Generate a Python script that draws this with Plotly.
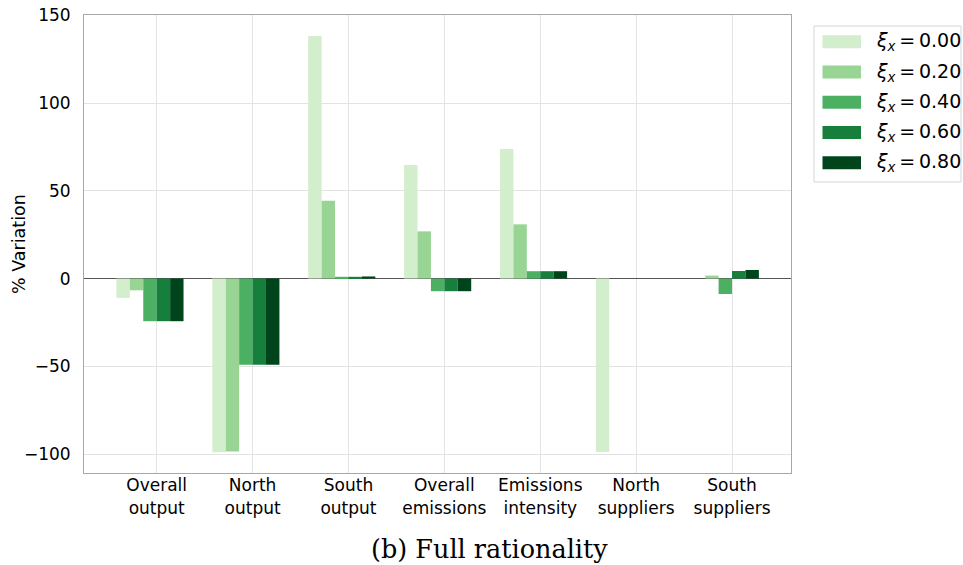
import plotly.graph_objects as go
import numpy as np

# Categories on the x axis (two-line tick labels)
categories = [
    "Overall<br>output",
    "North<br>output",
    "South<br>output",
    "Overall<br>emissions",
    "Emissions<br>intensity",
    "North<br>suppliers",
    "South<br>suppliers",
]

# Salience levels and the % variation for each category
xi_levels = ["0.00", "0.20", "0.40", "0.60", "0.80"]
var_xi_000 = [-11.0, -99.0, 138.3, 64.7, 73.8, -98.9, 0.0]
var_xi_020 = [-6.7, -98.6, 44.4, 26.9, 30.9, 0.0, 1.7]
var_xi_040 = [-24.3, -49.1, 1.0, -7.2, 4.2, 0.0, -8.8]
var_xi_060 = [-24.3, -49.1, 1.0, -7.2, 4.2, 0.0, 4.3]
var_xi_080 = [-24.3, -49.1, 1.2, -7.2, 4.2, 0.0, 4.9]
series = [var_xi_000, var_xi_020, var_xi_040, var_xi_060, var_xi_080]

colors = ["#d3eecd", "#98d594", "#4bb062", "#167f3c", "#00441b"]

W, H = 963, 565
L, R, T, B = 84, 172, 15, 92
plot_w = W - L - R
plot_h = H - T - B

bar_w = 0.14
idx = np.arange(len(categories))

fig = go.Figure()
for i, (vals, col, lev) in enumerate(zip(series, colors, xi_levels)):
    fig.add_trace(go.Bar(
        x=idx + (i - 2.5) * bar_w,
        y=vals,
        width=bar_w,
        marker=dict(color=col, line=dict(width=0)),
        name=lev,
        showlegend=False,
    ))

fig.update_layout(
    width=W, height=H,
    margin=dict(l=L, r=R, t=T, b=B, autoexpand=False),
    plot_bgcolor="white",
    paper_bgcolor="white",
    barmode="overlay",
    font=dict(family="DejaVu Sans", size=17, color="black"),
)

fig.update_xaxes(
    range=[-0.758, 6.615],
    automargin=False,
    tickmode="array",
    tickvals=idx,
    ticktext=categories,
    tickfont=dict(size=17),
    showgrid=True, gridcolor="#e3e3e3", gridwidth=1,
    showline=True, linecolor="#a8a8a8", linewidth=1, mirror=True,
    ticks="", ticklabelstandoff=-3,
    zeroline=False,
)
fig.update_yaxes(
    range=[-110.8, 150.2],
    automargin=False,
    tickmode="array",
    tickvals=[-100, -50, 0, 50, 100, 150],
    showgrid=True, gridcolor="#e3e3e3", gridwidth=1,
    showline=True, linecolor="#a8a8a8", linewidth=1, mirror=True,
    ticks="", ticklabelstandoff=9,
    zeroline=True, zerolinecolor="#555555", zerolinewidth=1.2,
)

def px_x(p):
    return (p - L) / plot_w

def px_y(p):
    return (H - B - p) / plot_h

annotations = [dict(
    xref="paper", yref="paper", x=px_x(19), y=0.5,
    xanchor="center", yanchor="middle", showarrow=False, textangle=-90,
    text="% Variation",
    font=dict(family="DejaVu Sans", size=17.5, color="black"),
)]

# Legend drawn as a framed box of colour patches and labels
shapes = [dict(
    type="rect", xref="paper", yref="paper",
    x0=px_x(814), x1=px_x(961), y0=px_y(182), y1=px_y(26),
    line=dict(color="#d6d6d6", width=1), fillcolor="white", layer="above",
)]
row0, row_step = 41.8, 30.25
for i, (col, lev) in enumerate(zip(colors, xi_levels)):
    cy = row0 + i * row_step
    shapes.append(dict(
        type="rect", xref="paper", yref="paper",
        x0=px_x(822.5), x1=px_x(861), y0=px_y(cy + 6.5), y1=px_y(cy - 6.5),
        line=dict(width=0), fillcolor=col, layer="above",
    ))
    annotations.append(dict(
        xref="paper", yref="paper", x=px_x(874), y=px_y(cy),
        xanchor="left", yanchor="middle", showarrow=False,
        text=f"<i>ξ</i><sub><i>x</i></sub>\u2009=\u2009{lev}",
        font=dict(family="DejaVu Sans", size=19, color="black"),
    ))

annotations.append(dict(
    xref="paper", yref="paper", x=px_x(490), y=px_y(549),
    xanchor="center", yanchor="middle", showarrow=False,
    text="(b) Full rationality",
    font=dict(family="DejaVu Serif", size=25.5, color="black"),
))

fig.update_layout(shapes=shapes, annotations=annotations)

fig.write_html("out.html")
